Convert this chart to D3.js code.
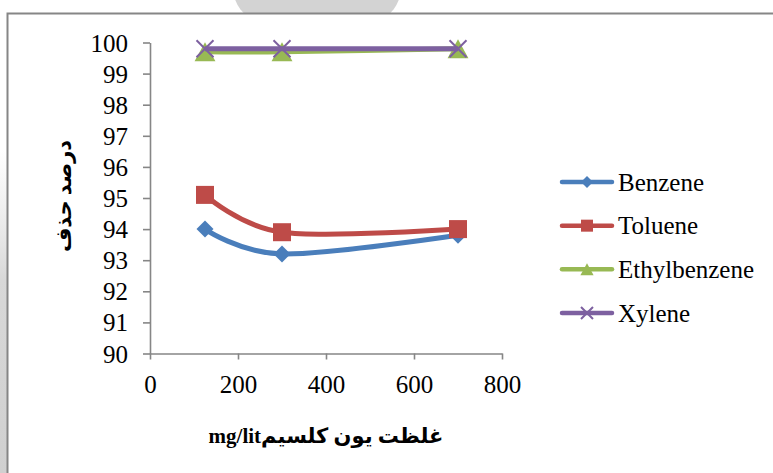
<!DOCTYPE html>
<html>
<head>
<meta charset="utf-8">
<script src="https://cdn.jsdelivr.net/npm/d3@7"></script>
<style>
  html, body { margin: 0; padding: 0; background: #fff; }
  svg { display: block; }
</style>
</head>
<body>
<svg id="chart" width="773" height="473"></svg>
<script>
// ---- data ----
const xValues = [125, 300, 700];
const seriesNames = ["Benzene", "Toluene", "Ethylbenzene", "Xylene"];
const benzene = [94.0, 93.2, 93.8];
const toluene = [95.1, 93.9, 94.0];
const ethylbenzene = [99.7, 99.7, 99.8];
const xylene = [99.8, 99.8, 99.8];
const xTicks = [0, 200, 400, 600, 800];
const yTicks = [90, 91, 92, 93, 94, 95, 96, 97, 98, 99, 100];
const xTitle = "غلظت یون کلسیمmg/lit";
const yTitle = "درصد حذف";

const colors = ["#4A7EBB", "#BE4B48", "#98B954", "#7D60A0"];
const markers = ["diamond", "square", "triangle", "x"];
const values = [benzene, toluene, ethylbenzene, xylene];

const svg = d3.select("#chart");
const serif = '"Liberation Serif", serif';
const titleFont = '"Liberation Serif", "DejaVu Sans", serif';

// background artefacts
const defs = svg.append("defs");
const grad = defs.append("linearGradient").attr("id", "leftShade")
  .attr("x1", 0).attr("y1", 0).attr("x2", 0).attr("y2", 1);
grad.append("stop").attr("offset", "0%").attr("stop-color", "#e0e0e0").attr("stop-opacity", 0);
grad.append("stop").attr("offset", "40%").attr("stop-color", "#d8d8d8").attr("stop-opacity", 1);
grad.append("stop").attr("offset", "100%").attr("stop-color", "#d0d0d0").attr("stop-opacity", 1);
svg.append("rect").attr("x", 0).attr("y", 150).attr("width", 7).attr("height", 323)
  .attr("fill", "url(#leftShade)");
svg.append("ellipse").attr("cx", 317).attr("cy", -8).attr("rx", 83).attr("ry", 45)
  .attr("fill", "#d3d3d3");

// chart frame
svg.append("rect").attr("x", 7.5).attr("y", 13.5).attr("width", 780).attr("height", 480)
  .attr("fill", "#fff").attr("stroke", "#868686").attr("stroke-width", 2);

// scales
const x = d3.scaleLinear().domain([0, 800]).range([150, 502]);
const y = d3.scaleLinear().domain([90, 100]).range([353.5, 42.5]);

// axes
const yAxis = svg.append("g").attr("transform", "translate(150,0)")
  .call(d3.axisLeft(y).tickValues(yTicks).tickSize(7).tickSizeOuter(0).tickPadding(15));
const xAxis = svg.append("g").attr("transform", "translate(0,353.5)")
  .call(d3.axisBottom(x).tickValues(xTicks).tickSize(6).tickSizeOuter(0).tickPadding(15));
[xAxis, yAxis].forEach(g => {
  g.attr("font-family", null).attr("font-size", null);
  g.select(".domain").attr("stroke", "#868686").attr("stroke-width", 1.6);
  g.selectAll(".tick line").attr("stroke", "#868686").attr("stroke-width", 1.6);
  g.selectAll(".tick text").attr("fill", "#000")
    .style("font-family", serif).style("font-size", "25px");
});
yAxis.selectAll(".tick text").attr("dy", "0.34em");
xAxis.selectAll(".tick text").attr("dy", "0.72em");

// symbol drawing
function drawMarker(g, type, cx, cy, color, s) {
  const h = s / 2;
  if (type === "diamond") {
    g.append("path").attr("d", `M${cx},${cy - h}L${cx + h},${cy}L${cx},${cy + h}L${cx - h},${cy}Z`)
      .attr("fill", color);
  } else if (type === "square") {
    g.append("rect").attr("x", cx - h).attr("y", cy - h).attr("width", s).attr("height", s)
      .attr("fill", color);
  } else if (type === "triangle") {
    g.append("path").attr("d", `M${cx},${cy - h}L${cx + h * 1.1},${cy + h}L${cx - h * 1.1},${cy + h}Z`)
      .attr("fill", color);
  } else if (type === "x") {
    g.append("path").attr("d", `M${cx - h},${cy - h}L${cx + h},${cy + h}M${cx + h},${cy - h}L${cx - h},${cy + h}`)
      .attr("stroke", color).attr("stroke-width", 2).attr("fill", "none");
  }
}
const markerSize = { diamond: 17, square: 18, triangle: 19, x: 17 };

// series
const line = d3.line().x(d => x(d[0])).y(d => y(d[1])).curve(d3.curveCardinal.tension(0));
values.forEach((vals, i) => {
  const pts = xValues.map((xv, j) => [xv, vals[j]]);
  const g = svg.append("g");
  g.append("path").attr("d", line(pts)).attr("fill", "none")
    .attr("stroke", colors[i]).attr("stroke-width", 5).attr("stroke-linejoin", "round");
  pts.forEach(p => drawMarker(g, markers[i], x(p[0]), y(p[1]), colors[i], markerSize[markers[i]]));
});

// legend
const legendY = d3.scalePoint().domain(seriesNames).range([182, 313]);
seriesNames.forEach((name, i) => {
  const ly = legendY(name);
  const g = svg.append("g");
  g.append("line").attr("x1", 562).attr("x2", 612).attr("y1", ly).attr("y2", ly)
    .attr("stroke", colors[i]).attr("stroke-width", 4.5).attr("stroke-linecap", "round");
  drawMarker(g, markers[i], 587, ly, colors[i], 12);
  g.append("text").attr("x", 618).attr("y", ly).attr("dy", "0.34em")
    .style("font-family", serif).style("font-size", "25px").attr("fill", "#000").text(name);
});

// axis titles
svg.append("text").attr("x", 326).attr("y", 443).attr("text-anchor", "middle")
  .attr("direction", "rtl").style("unicode-bidi", "embed")
  .style("font-family", titleFont).style("font-weight", "bold").style("font-size", "21px")
  .attr("fill", "#000").text(xTitle);
svg.append("text").attr("transform", "translate(71,196) rotate(-90)").attr("text-anchor", "middle")
  .style("font-family", titleFont).style("font-weight", "bold").style("font-size", "21px")
  .attr("fill", "#000").text(yTitle);
</script>
</body>
</html>
